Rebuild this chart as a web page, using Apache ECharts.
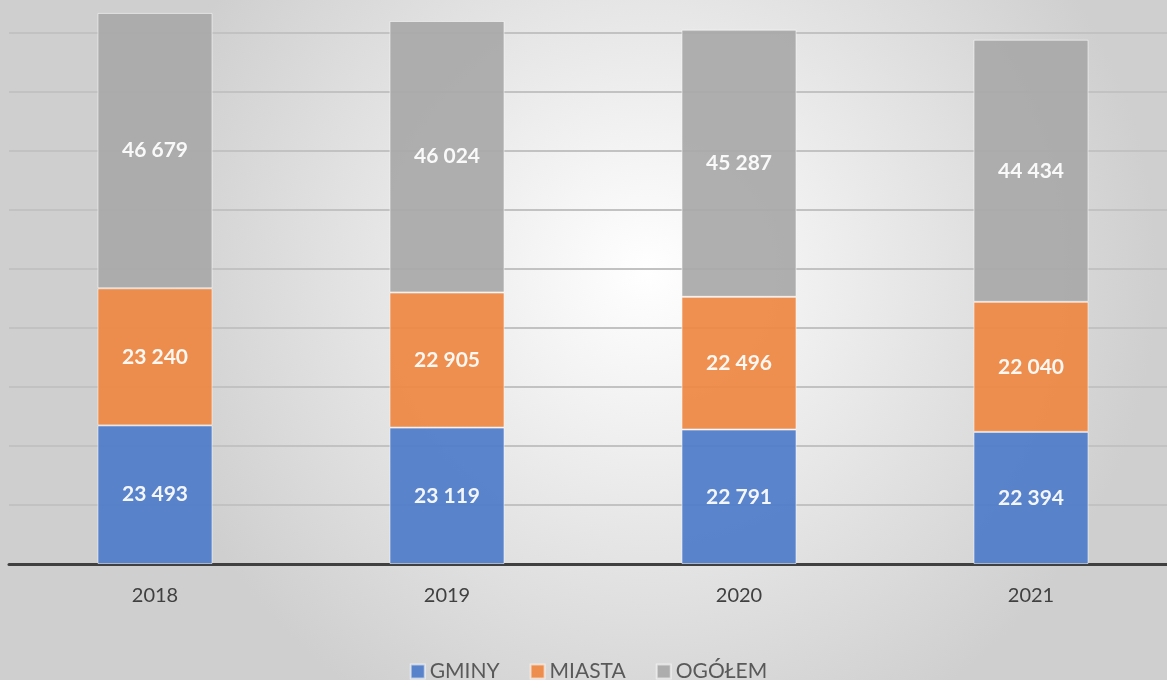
<!DOCTYPE html>
<html>
<head>
<meta charset="utf-8">
<script src="https://cdn.jsdelivr.net/npm/echarts@6/dist/echarts.min.js"></script>
<style>
	html, body { margin: 0; padding: 0; overflow: hidden; }
	#chart { width: 1177px; height: 680px; }
</style>
</head>
<body>
<div id="chart"></div>
<script>
const years = ["2018", "2019", "2020", "2021"];
const gminy = [23493, 23119, 22791, 22394];
const miasta = [23240, 22905, 22496, 22040];
const ogolem = [46679, 46024, 45287, 44434];

const seriesNames = ["GMINY", "MIASTA", "OGÓŁEM"];
const seriesColors = ["#4f7cc8", "#ee8843", "#a9a9a9"];

const fmt = v => String(v).replace(/\B(?=(\d{3})+(?!\d))/g, " ");

// the plot runs ~10px past the right edge of the picture, so the div is a bit wider than the page
const chart = echarts.init(document.getElementById("chart"));

const makeSeries = (name, data, color) => ({
	name,
	type: "bar",
	stack: "total",
	data,
	barWidth: "39.4%",
	itemStyle: {
		color,
		opacity: 0.93,
		borderColor: "rgba(255,255,255,0.6)",
		borderWidth: 1,
	},
	label: {
		show: true,
		position: "inside",
		color: "#ffffff",
		fontFamily: "Lato",
		fontWeight: "bold",
		fontSize: 21,
		formatter: p => fmt(p.value),
	},
});

chart.setOption({
	animation: false,
	backgroundColor: {
		type: "radial",
		x: 0.55,
		y: 0.4,
		r: 0.75,
		colorStops: [
			{ offset: 0, color: "#ffffff" },
			{ offset: 1, color: "#cfcfcf" },
		],
	},
	legend: {
		bottom: -7,
		left: "center",
		itemWidth: 14,
		itemHeight: 14,
		itemGap: 30,
		icon: "rect",
		textStyle: {
			fontFamily: "Lato",
			fontSize: 21,
			color: "#595959",
		},
		data: seriesNames,
	},
	grid: {
		left: 9,
		top: 0,
		right: 0,
		bottom: 116,
	},
	xAxis: {
		type: "category",
		data: years,
		axisTick: { show: false },
		axisLine: { lineStyle: { color: "#404040", width: 3 } },
		axisLabel: {
			margin: 22,
			fontFamily: "Lato",
			fontSize: 20,
			color: "#404040",
		},
	},
	yAxis: {
		type: "value",
		min: 0,
		max: 95600,
		interval: 10000,
		axisLabel: { show: false },
		axisLine: { show: false },
		axisTick: { show: false },
		splitLine: { showMaxLine: false, lineStyle: { color: "#c2c2c2", width: 2 } },
	},
	series: [
		makeSeries(seriesNames[0], gminy, seriesColors[0]),
		makeSeries(seriesNames[1], miasta, seriesColors[1]),
		makeSeries(seriesNames[2], ogolem, seriesColors[2]),
	],
});
</script>
</body>
</html>
